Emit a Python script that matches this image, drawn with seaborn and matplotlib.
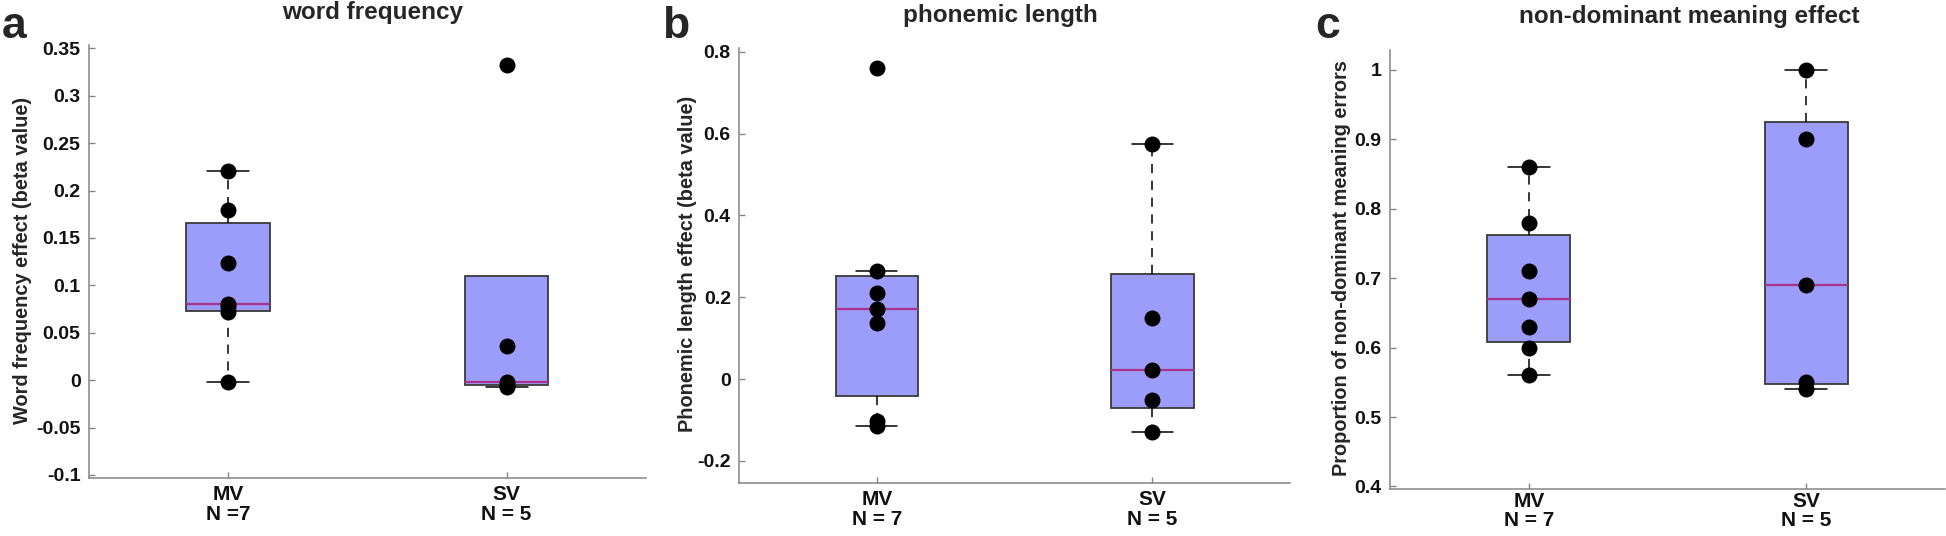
import numpy as np
import pandas as pd
import matplotlib
matplotlib.use('Agg')
import matplotlib.pyplot as plt
import seaborn as sns

# values
groups = ['MV', 'SV']
wf_mv = [0.221, 0.180, 0.124, 0.080, 0.077, 0.072, -0.002]
wf_sv = [0.332, 0.036, -0.0015, -0.005, -0.007]
pl_mv = [0.760, 0.264, 0.211, 0.170, 0.138, -0.102, -0.115]
pl_sv = [0.574, 0.150, 0.021, -0.050, -0.129]
nd_mv = [0.86, 0.78, 0.71, 0.67, 0.63, 0.60, 0.56]
nd_sv = [1.00, 0.90, 0.69, 0.55, 0.54]

titles = ['word frequency', 'phonemic length', 'non-dominant meaning effect']
ylabels = ['Word frequency effect (beta value)',
           'Phonemic length effect (beta value)',
           'Proportion of non-dominant meaning errors']
xticklabels = [['MV\nN =7', 'SV\nN = 5'],
               ['MV\nN = 7', 'SV\nN = 5'],
               ['MV\nN = 7', 'SV\nN = 5']]
panel_letters = ['a', 'b', 'c']
yticks = [np.arange(-0.1, 0.351, 0.05), np.arange(-0.2, 0.81, 0.2), np.arange(0.4, 1.01, 0.1)]
ylims = [(-0.1032, 0.3535), (-0.254, 0.809), (0.3966, 1.029)]


def matlab_prctile(v, p):
    # same interpolation MATLAB's boxplot uses
    v = np.sort(np.asarray(v, dtype=float))
    n = len(v)
    pos = n * p / 100 + 0.5
    if pos < 1:
        return v[0]
    if pos >= n:
        return v[-1]
    i = int(np.floor(pos))
    return v[i - 1] + (pos - i) * (v[i] - v[i - 1])


def box_stats(v):
    v = np.asarray(v, dtype=float)
    q1, med, q3 = matlab_prctile(v, 25), matlab_prctile(v, 50), matlab_prctile(v, 75)
    iqr = q3 - q1
    hi = v[v <= q3 + 1.5 * iqr].max()
    lo = v[v >= q1 - 1.5 * iqr].min()
    return dict(med=med, q1=q1, q3=q3, whislo=min(lo, q1), whishi=max(hi, q3), fliers=[])


sns.set_style('ticks')
plt.rcParams['font.family'] = ['Liberation Sans', 'DejaVu Sans']
plt.rcParams['font.weight'] = 'bold'

fig = plt.figure(figsize=(19.46, 5.36), dpi=100)
# axes placement in figure fractions
rects = [[0.0457, 0.1082, 0.2862, 0.8078],
         [0.3798, 0.0989, 0.2831, 0.8116],
         [0.7143, 0.0880, 0.2852, 0.8190]]
title_x = [0.51, 0.475, 0.54]
ylabel_x = [-0.12, -0.093, -0.088]
letter_x = [0.001, 0.340, 0.676]
xtick_pad = [5, 5, 2]

datasets = [(wf_mv, wf_sv), (pl_mv, pl_sv), (nd_mv, nd_sv)]
axis_gray = '#858585'

for k, (mv, sv) in enumerate(datasets):
    ax = fig.add_axes(rects[k])
    df = pd.DataFrame({'group': ['MV'] * len(mv) + ['SV'] * len(sv),
                       'value': list(mv) + list(sv)})

    stats = [box_stats(mv), box_stats(sv)]
    parts = ax.bxp(stats, positions=[0, 1], widths=0.3, capwidths=0.15,
                   patch_artist=True, showfliers=False,
                   boxprops=dict(facecolor='#9c9cfa', edgecolor='#3a3a3a', linewidth=1.3),
                   medianprops=dict(color='#a8328c', linewidth=1.6),
                   whiskerprops=dict(color='black', linestyle=(0, (6, 5)), linewidth=1.1),
                   capprops=dict(color='black', linewidth=1.1))
    # a whisker that collapses onto the box edge shows no cap
    for j, st in enumerate(stats):
        if st['whishi'] == st['q3']:
            parts['caps'][2 * j + 1].set_visible(False)

    sns.stripplot(data=df, x='group', y='value', order=groups, jitter=False,
                  color='black', size=11.5, linewidth=0, ax=ax, zorder=4)

    ax.set_xlim(-0.5, 1.5)
    ax.set_ylim(*ylims[k])
    ax.set_yticks(yticks[k])
    ax.set_yticklabels([f'{round(t, 2):g}' for t in yticks[k]], fontsize=14, fontweight='bold')
    ax.set_xticks([0, 1])
    ax.set_xticklabels(xticklabels[k], fontsize=15, fontweight='bold', linespacing=1.05)
    ax.set_xlabel('')
    ax.set_ylabel(ylabels[k], fontsize=14.4, fontweight='bold', va='center')
    ax.yaxis.set_label_coords(ylabel_x[k], 0.503)
    ax.set_title(titles[k], fontsize=17.5, fontweight='bold', pad=19, x=title_x[k])

    sns.despine(ax=ax)
    for s in ['left', 'bottom']:
        ax.spines[s].set_color(axis_gray)
        ax.spines[s].set_linewidth(1.1)
    ax.tick_params(direction='in', length=4.5, width=1, color=axis_gray,
                   labelcolor='#111111')
    ax.tick_params(axis='x', pad=xtick_pad[k])
    ax.tick_params(axis='y', pad=6)

    fig.text(letter_x[k], 0.93, panel_letters[k], fontsize=32, fontweight='bold',
             ha='left', va='baseline')

fig.savefig('out.png', dpi=100)
